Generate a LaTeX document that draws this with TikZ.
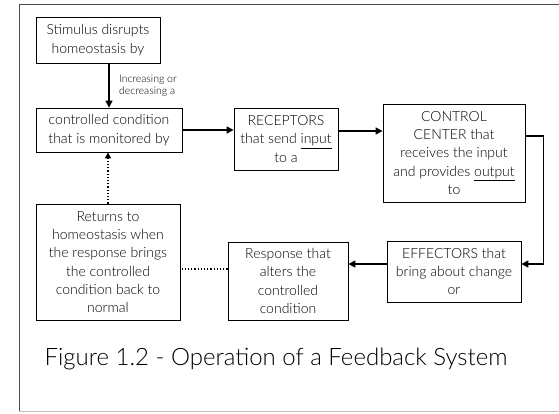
\documentclass[tikz,border=0pt]{standalone}
\usepackage{fontspec}
\setmainfont{Lato Light}
\usetikzlibrary{arrows.meta}
\tikzset{
  box/.style={draw,line width=0.8pt,align=center,inner sep=1pt,font=\fontsize{14}{18.3}\selectfont},
  flow/.style={line width=1.5pt},
  back/.style={line width=1.2pt,dotted}
}
\begin{document}
\begin{tikzpicture}[x=1pt,y=-1pt,>={Triangle[length=7pt,width=7pt]}]
  \useasboundingbox (0,0) rectangle (559,413);
  % frame
  \draw[line width=1pt,black!70] (559,4) -- (19,4) -- (19,411.5);
  \draw[line width=1pt,black!25] (19,411.5) -- (559,411.5);
  % boxes
  \node[box,minimum width=124pt,minimum height=46pt] (stim) at (98,40) {Stimulus disrupts\\homeostasis by};
  \node[box,minimum width=146pt,minimum height=44pt] (cond) at (109,130) {controlled condition\\that is monitored by};
  \node[box,minimum width=104pt,minimum height=62pt] (recep) at (286,139) {RECEPTORS\\that send \underline{input}\\to a};
  \node[box,minimum width=142pt,minimum height=98pt] (ctrl) at (454,153) {CONTROL\\CENTER that\\receives the input\\and provides \underline{output}\\to};
  \node[box,minimum width=134pt,minimum height=61pt] (eff) at (454,271.5) {EFFECTORS that\\bring about change\\or};
  \node[box,minimum width=120pt,minimum height=78pt] (resp) at (288,281) {Response that\\alters the\\controlled\\condition};
  \node[box,minimum width=144pt,minimum height=116pt] (ret) at (108,262) {Returns to\\homeostasis when\\the response brings\\the controlled\\condition back to\\normal};
  % connectors
  \draw[flow,->] (cond.north |- stim.south) -- (cond.north)
    node[midway,right=6pt,align=left,font=\fontsize{10.5}{12.5}\selectfont] (lbl) {Increasing or\\decreasing a};
  \draw[flow,->] (cond.east) -- (cond.east -| recep.west);
  \draw[flow,->] ([yshift=8pt]recep.east) -- ([yshift=8pt]recep.east -| ctrl.west);
  \draw[flow,->] ([yshift=17pt]ctrl.east) -- ++(18,0) |- ([yshift=7.5pt]eff.east);
  \draw[flow,->] ([yshift=7.5pt]eff.west) -- ([yshift=7.5pt]eff.west -| resp.east);
  \draw[back] ([yshift=12pt]resp.west) -- ([yshift=12pt]resp.west -| ret.east);
  \draw[back,->,>={Triangle[length=6pt,width=6pt]}] (ret.north) -- (ret.north |- cond.south);
  % caption
  \node[anchor=base west,font=\fontsize{24}{28}\selectfont] (cap) at (41,365) {Figure 1.2 - Operation of a Feedback System};
\end{tikzpicture}
\end{document}
